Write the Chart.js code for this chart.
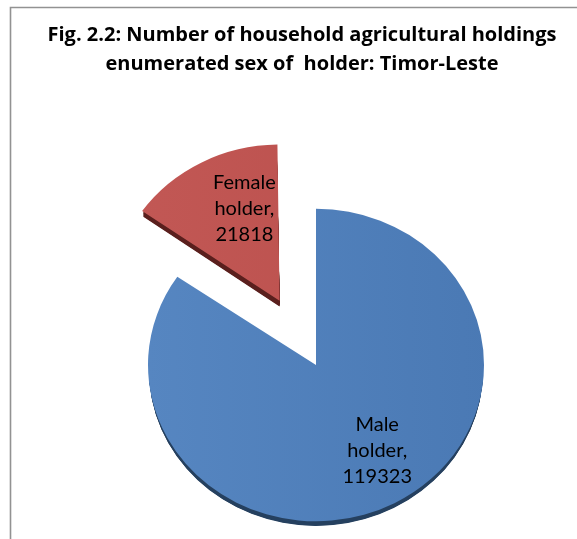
<!DOCTYPE html>
<html>
<head>
<meta charset="utf-8">
<script src="https://cdn.jsdelivr.net/npm/chart.js@4.4.1/dist/chart.umd.min.js"></script>
<style>
  html, body { margin: 0; padding: 0; background: #fff; }
  canvas { display: block; }
</style>
</head>
<body>
<canvas id="pie" width="577" height="539"></canvas>
<script>
// data
const categories = ['Male holder', 'Female holder'];
const holdings = [119323, 21818];
const exploded = ['Female holder'];
const titleLines = ['Fig. 2.2: Number of household agricultural holdings', 'enumerated sex of  holder: Timor-Leste'];

const TOP_COLORS = [['#5787c2', '#4a79b4'], ['#c35956', '#ba4f4c']];
const SIDE_COLORS = ['#25405f', '#5a1f1d'];
const LABEL_NUDGE = [[11, -3], [15, -4]];
const RADIUS = 168;
const EXPLODE_PX = 78;  // how far the female slice is pulled out
const TILT = 0.93;      // vertical squash for the 3D look
const DEPTH = 6;

// chart.js moves an arc by offset/4
const offsets = categories.map(c => exploded.includes(c) ? EXPLODE_PX * 4 : 0);

function shiftOf(arc) {
    const o = (arc.options.offset || 0) / 4;
    const fix = 1 - Math.sin(Math.min(Math.PI, arc.circumference));
    const grow = o * fix;
    // chart.js also trims the arc's angle a little when it grows it
    return { move: o, grow: grow, trim: grow / (2 * Math.PI * RADIUS) };
}

// grey frame (top and left only) and the two-line title
const framePlugin = {
    id: 'frame',
    beforeDraw(chart) {
        const ctx = chart.ctx;
        ctx.save();
        ctx.strokeStyle = '#929292';
        ctx.lineWidth = 1.6;
        ctx.beginPath();
        ctx.moveTo(10.5, chart.height);
        ctx.lineTo(10.5, 7.5);
        ctx.lineTo(chart.width, 7.5);
        ctx.stroke();

        ctx.fillStyle = '#000';
        ctx.font = 'bold 20px "Open Sans"';
        ctx.textAlign = 'center';
        ctx.textBaseline = 'middle';
        titleLines.forEach((t, k) => ctx.fillText(t, 302, 35 + k * 29));
        ctx.restore();
    }
};

// squash the pie and draw the side walls under each slice
const tiltPlugin = {
    id: 'tilt',
    beforeDatasetsDraw(chart) {
        const ctx = chart.ctx;
        const arcs = chart.getDatasetMeta(0).data;
        if (!arcs.length) return;
        const cx = arcs[0].x, cy = arcs[0].y;
        ctx.save();
        ctx.translate(cx, cy);
        ctx.scale(1, TILT);
        ctx.translate(-cx, -cy);
        arcs.forEach((arc, i) => {
            const s = shiftOf(arc);
            // keep exploded slice the same size as the rest
            arc.outerRadius = RADIUS - s.grow;
            const mid = (arc.startAngle + arc.endAngle) / 2;
            const ox = Math.cos(mid) * s.move;
            const oy = Math.sin(mid) * s.move;
            const a0 = arc.startAngle + s.trim + 0.004;
            const a1 = arc.endAngle - s.trim - 0.004;
            ctx.fillStyle = SIDE_COLORS[i];
            for (let d = 1; d <= DEPTH / TILT; d += 0.5) {
                ctx.beginPath();
                ctx.moveTo(arc.x + ox, arc.y + oy + d);
                ctx.arc(arc.x + ox, arc.y + oy + d, RADIUS - 1, a0, a1);
                ctx.closePath();
                ctx.fill();
            }
        });
    },
    afterDatasetsDraw(chart) {
        chart.ctx.restore();
    }
};

// slice labels: name split over lines, then value
const labelPlugin = {
    id: 'sliceLabels',
    afterDatasetsDraw(chart) {
        const ctx = chart.ctx;
        const arcs = chart.getDatasetMeta(0).data;
        ctx.save();
        ctx.fillStyle = '#000';
        ctx.font = '20px Lato';
        ctx.textAlign = 'center';
        ctx.textBaseline = 'middle';
        arcs.forEach((arc, i) => {
            const mid = (arc.startAngle + arc.endAngle) / 2;
            const dist = shiftOf(arc).move + RADIUS * 0.64;
            const x = arc.x + Math.cos(mid) * dist + LABEL_NUDGE[i][0];
            const y = arc.y + Math.sin(mid) * dist * TILT + LABEL_NUDGE[i][1];
            const lines = categories[i].split(' ');
            lines[lines.length - 1] += ',';
            lines.push(String(holdings[i]));
            const lh = 26;
            lines.forEach((t, k) => {
                ctx.fillText(t, x, y + (k - (lines.length - 1) / 2) * lh);
            });
        });
        ctx.restore();
    }
};

function sliceGradient(context) {
    const chart = context.chart;
    const cols = TOP_COLORS[context.dataIndex];
    if (!chart.chartArea) return cols[0];
    const g = chart.ctx.createLinearGradient(120, 0, 490, 0);
    g.addColorStop(0, cols[0]);
    g.addColorStop(1, cols[1]);
    return g;
}

new Chart(document.getElementById('pie'), {
    type: 'pie',
    data: {
        labels: categories,
        datasets: [{
            data: holdings,
            backgroundColor: sliceGradient,
            borderWidth: 0,
            offset: offsets,
            clip: false
        }]
    },
    options: {
        responsive: false,
        animation: false,
        events: [],
        devicePixelRatio: 1,
        radius: RADIUS,
        rotation: 0,
        layout: { padding: { left: 55, right: 0, top: 191, bottom: 0 } },
        plugins: {
            legend: { display: false },
            tooltip: { enabled: false },
            title: { display: false }
        }
    },
    plugins: [framePlugin, tiltPlugin, labelPlugin]
});
</script>
</body>
</html>
